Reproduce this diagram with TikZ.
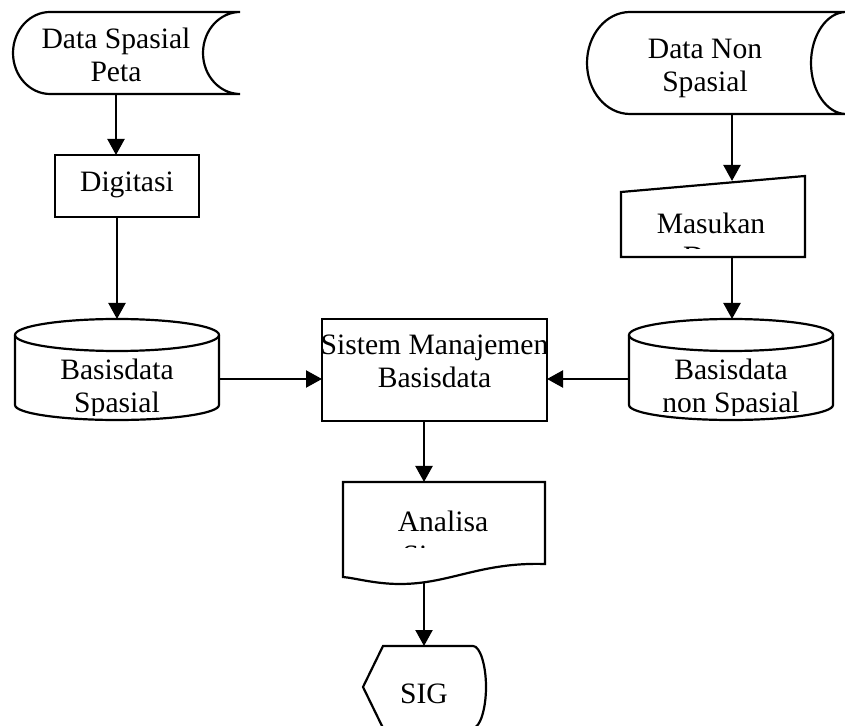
\documentclass[tikz,border=0pt]{standalone}
\usepackage{fontspec}
\setmainfont{Liberation Serif}
\usetikzlibrary{arrows.meta,calc}

\begin{document}
\begin{tikzpicture}
[x=0.5pt,y=-0.5pt,line width=1.1pt,
 arr/.style={-{Triangle[length=8pt,width=8.5pt]}},
 txt/.style={anchor=base,align=center,inner sep=0pt,font=\fontsize{14.8}{16.75}\selectfont},]

\clip (0,0) rectangle (845,726);

%Ports of the shapes
\coordinate (dsp-s) at (116,94);
\coordinate (dig-n) at (116,155);
\coordinate (dig-s) at (117,217);
\coordinate (bds-n) at (117,319);
\coordinate (bds-e) at (219,379);
\coordinate (smb-w) at (322,379);
\coordinate (dns-s) at (732,114);
\coordinate (msk-n) at (732,181);
\coordinate (msk-s) at (732,257);
\coordinate (bdn-n) at (732,319);
\coordinate (bdn-w) at (629,379);
\coordinate (smb-e) at (547,379);
\coordinate (smb-s) at (424,421);
\coordinate (ana-n) at (424,482);
\coordinate (ana-s) at (424,582);
\coordinate (sig-n) at (424,646);

%Data Spasial Peta
\draw (50,12) -- (240,12) .. controls (220,12) and (203,30) .. (203,53)
  .. controls (203,76) and (220,94) .. (240,94) -- (50,94)
  .. controls (30,94) and (13,76) .. (13,53) .. controls (13,30) and (30,12) .. (50,12) -- cycle;
\node[txt] (dsp) at (116,82) {Data Spasial\\Peta};

%Data Non Spasial
\draw (630,12) -- (846,12) .. controls (827,12) and (811,35) .. (811,63)
  .. controls (811,91) and (827,114) .. (846,114) -- (630,114)
  .. controls (606,114) and (587,91) .. (587,63) .. controls (587,35) and (606,12) .. (630,12) -- cycle;
\node[txt] (dns) at (705,92) {Data Non\\Spasial};

%Digitasi
\draw (55,155) rectangle (199,217);
\node[txt] (dig) at (127,192) {Digitasi};

%Masukan Data
\draw (621,192) -- (805,176) -- (805,257) -- (621,257) -- cycle;
\begin{scope}
\clip (621,176) rectangle (805,248.5);
\node[txt] (msk) at (711,267) {Masukan\\Data};
\end{scope}

%Basisdata Spasial
\draw (117,335) ellipse [x radius=102, y radius=16];
\draw (15,335) -- (15,405) .. controls (15,413.3) and (60.7,420) .. (117,420)
  .. controls (173.3,420) and (219,413.3) .. (219,405) -- (219,335);
\begin{scope}
\clip (15,340) rectangle (219,416);
\node[txt] (bds) at (117,413) {Basisdata\\Spasial};
\end{scope}

%Basisdata non Spasial
\draw (731,335) ellipse [x radius=102, y radius=16];
\draw (629,335) -- (629,405) .. controls (629,413.3) and (674.7,420) .. (731,420)
  .. controls (787.3,420) and (833,413.3) .. (833,405) -- (833,335);
\begin{scope}
\clip (629,340) rectangle (833,416);
\node[txt] (bdn) at (731,413) {Basisdata\\non Spasial};
\end{scope}

%Sistem Manajemen Basisdata
\draw (322,319) rectangle (547,421);
\node[txt] (smb) at (434.5,388) {Sistem Manajemen\\Basisdata};

%Analisa Sistem
\draw (343,482) -- (545,482) -- (545,564) .. controls (480,562) and (450,584) .. (400,584)
  .. controls (375,584) and (355,578) .. (343,577) -- cycle;
\begin{scope}
\clip (343,482) rectangle (545,547.5);
\node[txt] (ana) at (443,565) {Analisa\\Sistem};
\end{scope}

%SIG
\draw (383,646) -- (473,646) .. controls (480,646) and (486,665) .. (486,687)
  .. controls (486,709) and (480,728) .. (473,728) -- (383,728) -- (363,687) -- cycle;
\node[txt] (sig) at (424,703) {SIG};

%Arrows
\draw[arr] (dsp-s) -- (dig-n);
\draw[arr] (dig-s) -- (bds-n);
\draw[arr] (bds-e) -- (smb-w);
\draw[arr] (dns-s) -- (msk-n);
\draw[arr] (msk-s) -- (bdn-n);
\draw[arr] (bdn-w) -- (smb-e);
\draw[arr] (smb-s) -- (ana-n);
\draw[arr] (ana-s) -- (sig-n);

\end{tikzpicture}
\end{document}
